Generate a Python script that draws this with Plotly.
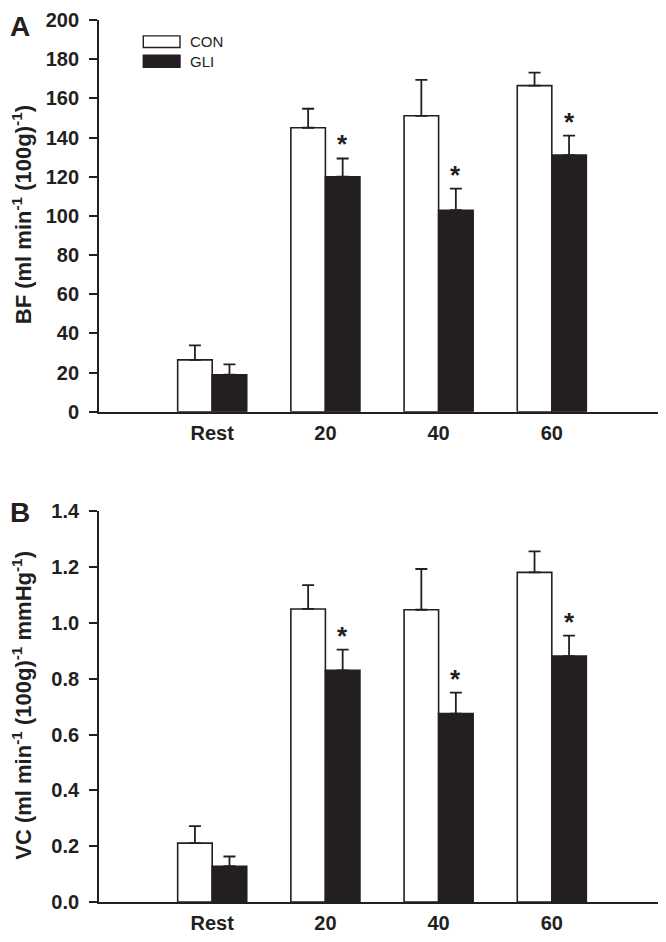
import plotly.graph_objects as go

# ---------------- data ----------------
categories = ["Rest", "20", "40", "60"]
x_pos = [1, 2, 3, 4]

bf_con = [26.5, 145.0, 151.1, 166.5]
bf_con_err = [7.4, 9.7, 18.3, 6.6]
bf_gli = [18.9, 120.0, 102.9, 131.0]
bf_gli_err = [5.3, 9.3, 11.0, 10.0]
bf_sig = [False, True, True, True]

vc_con = [0.211, 1.050, 1.047, 1.181]
vc_con_err = [0.061, 0.085, 0.146, 0.075]
vc_gli = [0.128, 0.830, 0.675, 0.881]
vc_gli_err = [0.035, 0.074, 0.075, 0.073]
vc_sig = [False, True, True, True]

bf_ticks = [0, 20, 40, 60, 80, 100, 120, 140, 160, 180, 200]
vc_ticks = [0.0, 0.2, 0.4, 0.6, 0.8, 1.0, 1.2, 1.4]

# ---------------- style ----------------
K = "#231f20"
FONT = "Liberation Sans, Arial, Helvetica, sans-serif"
BAR_W = 0.305  # width of a single bar in x units
OFF = 8  # page body margin of the html page
W, H = 666 - OFF, 942 - OFF
ML, MR, MT, MB = 99 - OFF, 1, 4, 40

fig = go.Figure()


def add_panel(con, con_err, gli, gli_err, xa, ya):
    fig.add_trace(go.Bar(
        x=x_pos, y=con, name="CON", xaxis=xa, yaxis=ya, showlegend=False,
        marker=dict(color="white", line=dict(color=K, width=1.6)),
        error_y=dict(type="data", symmetric=False, array=con_err,
                     arrayminus=[0] * len(con), color=K, thickness=1.8, width=6),
    ))
    fig.add_trace(go.Bar(
        x=x_pos, y=gli, name="GLI", xaxis=xa, yaxis=ya, showlegend=False,
        marker=dict(color=K, line=dict(color=K, width=1.6)),
        error_y=dict(type="data", symmetric=False, array=gli_err,
                     arrayminus=[0] * len(gli), color=K, thickness=1.8, width=6),
    ))


add_panel(bf_con, bf_con_err, bf_gli, bf_gli_err, "x", "y")
add_panel(vc_con, vc_con_err, vc_gli, vc_gli_err, "x2", "y2")

annotations = []


def add_stars(vals, errs, sig, xref, yref):
    for xp, v, e, s in zip(x_pos, vals, errs, sig):
        if s:
            annotations.append(dict(
                x=xp + BAR_W / 2, y=v + e, xref=xref, yref=yref,
                text="*", showarrow=False, yanchor="bottom", xanchor="center",
                yshift=-3, font=dict(family=FONT, size=26, color=K, weight="bold"),
            ))


add_stars(bf_gli, bf_gli_err, bf_sig, "x", "y")
add_stars(vc_gli, vc_gli_err, vc_sig, "x2", "y2")

pw = W - ML - MR
ph = H - MT - MB


# helpers: page pixel -> paper coordinates
def px_x(px):
    return (px - OFF - ML) / pw


def px_y(py):
    return (H - MB - (py - OFF)) / ph


TOP_BASE = 407.3  # page px of top panel baseline
TOP_H = 395.0

# axis titles
annotations.append(dict(
    x=px_x(22), y=px_y(209), xref="paper", yref="paper", showarrow=False,
    text="BF (ml min<sup>-1</sup> (100g)<sup>-1</sup>)", textangle=-90,
    xanchor="center", yanchor="middle",
    font=dict(family=FONT, size=22, color=K, weight="bold"),
))
annotations.append(dict(
    x=px_x(22), y=px_y(704), xref="paper", yref="paper", showarrow=False,
    text="VC (ml min<sup>-1</sup> (100g)<sup>-1</sup> mmHg<sup>-1</sup>)", textangle=-90,
    xanchor="center", yanchor="middle",
    font=dict(family=FONT, size=22, color=K, weight="bold"),
))
# panel letters
for letter, py in (("A", 19), ("B", 509)):
    annotations.append(dict(
        x=px_x(20), y=px_y(py), xref="paper", yref="paper", showarrow=False,
        text=letter, xanchor="center", yanchor="middle",
        font=dict(family=FONT, size=28, color=K, weight="bold"),
    ))

# legend (manual, top panel)
lx0 = (143.3 - 99) / pw
lx1 = (180 - 99) / pw
shapes = [
    dict(type="rect", xref="x domain", yref="y domain",
         x0=lx0, x1=lx1, y0=(TOP_BASE - 40) / TOP_H, y1=(TOP_BASE - 28.3) / TOP_H,
         fillcolor="white", line=dict(color=K, width=1.4)),
    dict(type="rect", xref="x domain", yref="y domain",
         x0=lx0, x1=lx1, y0=(TOP_BASE - 60) / TOP_H, y1=(TOP_BASE - 47.7) / TOP_H,
         fillcolor=K, line=dict(color=K, width=1.4)),
]
for name, py in (("CON", 34.3), ("GLI", 54)):
    annotations.append(dict(
        x=(188 - 99) / pw, y=(TOP_BASE - py) / TOP_H, xref="x domain", yref="y domain",
        text=name, showarrow=False, xanchor="left", yanchor="middle",
        font=dict(family=FONT, size=15, color=K),
    ))

top_dom = [px_y(TOP_BASE), 1.0]
bot_dom = [0.0, px_y(507.7)]

xcommon = dict(
    range=[0, 5], tickmode="array", tickvals=x_pos, ticktext=categories,
    showline=True, linecolor=K, linewidth=1.8, ticks="", showgrid=False, zeroline=False,
    tickfont=dict(family=FONT, size=20, color=K, weight="bold"), ticklabelstandoff=2,
)
ycommon = dict(
    showline=True, linecolor=K, linewidth=1.8, ticks="outside", ticklen=8, tickwidth=1.5,
    tickcolor=K, showgrid=False, zeroline=False,
    tickfont=dict(family=FONT, size=20, color=K, weight="bold"), ticklabelstandoff=6,
)

fig.update_layout(
    width=W, height=H,
    margin=dict(l=ML, r=MR, t=MT, b=MB),
    paper_bgcolor="white", plot_bgcolor="white",
    barmode="group", bargap=1 - 2 * BAR_W, bargroupgap=0,
    showlegend=False,
    xaxis=dict(domain=[0, 1], anchor="y", **xcommon),
    yaxis=dict(domain=top_dom, anchor="x", range=[0, 200], tickvals=bf_ticks, **ycommon),
    xaxis2=dict(domain=[0, 1], anchor="y2", **xcommon),
    yaxis2=dict(domain=bot_dom, anchor="x2", range=[0, 1.4], tickvals=vc_ticks,
                tickformat=".1f", **ycommon),
    annotations=annotations,
    shapes=shapes,
)

fig.write_html("out.html")
